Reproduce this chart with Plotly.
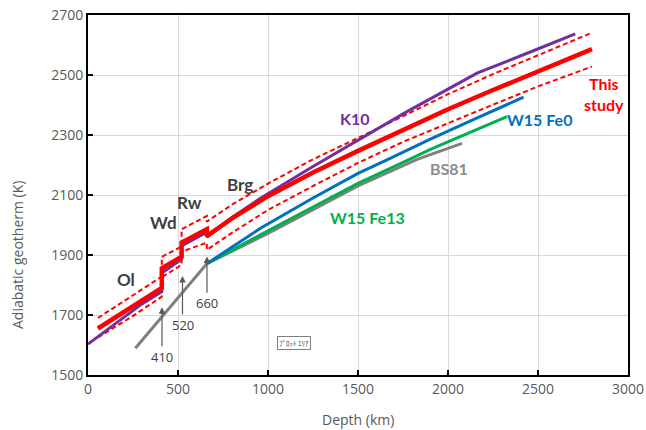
import plotly.graph_objects as go

# ---------------- data ----------------
this_depth = [55, 150, 250, 410, 410, 520, 520, 660, 660, 800, 1000, 1250, 1500, 1750, 2000, 2250, 2500, 2800]
this_T     = [1655, 1692, 1731, 1790, 1856, 1894, 1941, 1986, 1963, 2022, 2096, 2175, 2247, 2318, 2386, 2450, 2511, 2586]
this_upper = [1690, 1727, 1766, 1828, 1894, 1928, 1986, 2030, 2011, 2068, 2138, 2219, 2290, 2363, 2436, 2503, 2566, 2641]
this_lower = [1625, 1660, 1697, 1761, 1826, 1867, 1911, 1941, 1917, 1974, 2050, 2130, 2207, 2277, 2340, 2401, 2462, 2528]

k10_depth = [0, 100, 200, 300, 410, 410, 520, 520, 660, 660, 800, 958, 1250, 1500, 1772, 2000, 2161, 2450, 2707]
k10_T     = [1603, 1648, 1693, 1737, 1778, 1840, 1886, 1930, 1976, 1960, 2025, 2089, 2195, 2284, 2378, 2453, 2506, 2575, 2637]

w15fe0_depth = [660, 800, 958, 1250, 1500, 1661, 1902, 2150, 2420]
w15fe0_T     = [1871, 1927, 1989, 2090, 2172, 2217, 2286, 2354, 2426]

w15fe13_depth = [660, 800, 958, 1250, 1500, 1780, 1902, 2100, 2328]
w15fe13_T     = [1871, 1917, 1967, 2060, 2139, 2217, 2252, 2303, 2361]

bs81_depth = [263, 660, 1000, 1500, 1828, 2078]
bs81_T     = [1589, 1871, 1972, 2130, 2219, 2272]

transition_depths = [410, 520, 660]
arrow_tip_T   = [1726, 1830, 1895]
arrow_label_T = [1561, 1667, 1739]
arrow_x       = [411, 525, 661]

x_ticks = [0, 500, 1000, 1500, 2000, 2500, 3000]
y_ticks = [1500, 1700, 1900, 2100, 2300, 2500, 2700]

RED = "#FF0000"
PURPLE = "#7030A0"
BLUE = "#0070C0"
GREEN = "#00B050"
GRAY = "#808080"
DARK = "#404040"
LABEL_FONT = "Lato"

fig = go.Figure()

fig.add_trace(go.Scatter(x=bs81_depth, y=bs81_T, mode="lines",
                         line=dict(color=GRAY, width=3), name="BS81"))
fig.add_trace(go.Scatter(x=w15fe13_depth, y=w15fe13_T, mode="lines",
                         line=dict(color=GREEN, width=3), name="W15 Fe13"))
fig.add_trace(go.Scatter(x=w15fe0_depth, y=w15fe0_T, mode="lines",
                         line=dict(color=BLUE, width=3), name="W15 Fe0"))
fig.add_trace(go.Scatter(x=this_depth, y=this_upper, mode="lines",
                         line=dict(color=RED, width=2, dash="5px,3px"), name="upper"))
fig.add_trace(go.Scatter(x=this_depth, y=this_lower, mode="lines",
                         line=dict(color=RED, width=2, dash="5px,3px"), name="lower"))
fig.add_trace(go.Scatter(x=k10_depth, y=k10_T, mode="lines",
                         line=dict(color=PURPLE, width=3), name="K10"))
fig.add_trace(go.Scatter(x=this_depth, y=this_T, mode="lines",
                         line=dict(color=RED, width=4.5), name="This study"))

annotations = []
for xd, tip, labT, name in zip(arrow_x, arrow_tip_T, arrow_label_T, transition_depths):
    annotations.append(dict(x=xd, y=tip, ax=xd, ay=labT, xref="x", yref="y", axref="x", ayref="y",
                            text=str(name), showarrow=True, arrowhead=2, arrowsize=1.1,
                            arrowwidth=1.2, arrowcolor="#595959", standoff=0,
                            font=dict(family="Open Sans", size=13, color="#404040")))

def lab(text, x, y, color, size=16):
    annotations.append(dict(x=x, y=y, xref="x", yref="y", text="<b>%s</b>" % text, showarrow=False,
                            xanchor="center", yanchor="middle",
                            font=dict(family=LABEL_FONT, size=size, color=color)))

lab("Ol", 213, 1820, DARK, 17)
lab("Wd", 420, 2008, DARK, 17)
lab("Rw", 565, 2074, DARK, 17)
lab("Brg", 842, 2135, DARK, 17)
lab("K10", 1485, 2356, PURPLE)
lab("W15 Fe0", 2509, 2353, BLUE)
lab("W15 Fe13", 1553, 2026, GREEN)
lab("BS81", 2003, 2187, "#8C8C8C")
annotations.append(dict(x=2864, y=2437, xref="x", yref="y", text="<b>This<br>study</b>", showarrow=False,
                        xanchor="center", yanchor="middle",
                        font=dict(family=LABEL_FONT, size=16, color=RED), align="center"))

annotations.append(dict(x=(17 - 88) / 540, y=(375 - 255) / 360, xref="paper", yref="paper",
                        text="Adiabatic geotherm (K)", textangle=-90, showarrow=False,
                        xanchor="center", yanchor="middle",
                        font=dict(family="Open Sans", size=14, color="#595959")))
annotations.append(dict(x=0.5, y=(375 - 419) / 360, xref="paper", yref="paper",
                        text="Depth (km)", showarrow=False, xanchor="center", yanchor="middle",
                        font=dict(family="Open Sans", size=14, color="#595959")))
annotations.append(dict(x=(294 - 88) / 540, y=(375 - 343) / 360, xref="paper", yref="paper",
                        text="ﾌﾟﾛｯﾄ ｴﾘｱ", showarrow=False, bordercolor="#808080", borderwidth=1,
                        borderpad=1, bgcolor="white", xanchor="center", yanchor="middle",
                        font=dict(family="Noto Sans CJK JP", size=7, color="#404040")))

fig.update_layout(
    width=646, height=430,
    margin=dict(l=88, r=18, t=15, b=55, autoexpand=False),
    paper_bgcolor="white", plot_bgcolor="white",
    showlegend=False,
    annotations=annotations,
    font=dict(family="Open Sans", size=14, color="#595959"),
)
axis_common = dict(showgrid=True, gridcolor="#D9D9D9", gridwidth=1,
                   showline=True, linecolor="black", linewidth=2, mirror=True,
                   ticks="inside", ticklen=5, tickcolor="black", tickwidth=2,
                   tickfont=dict(family="Open Sans", size=14, color="#595959"),
                   ticklabeloverflow="allow",
                   zeroline=False, automargin=False)
fig.update_xaxes(range=[0, 3000], tickvals=x_ticks, **axis_common)
fig.update_yaxes(range=[1500, 2700], tickvals=y_ticks, **axis_common)

# remove the default 8 px page margin so the figure fills the window exactly
fig.write_html("out.html", config={"displayModeBar": False},
               post_script="document.body.style.margin='0';document.body.style.overflow='hidden';")
